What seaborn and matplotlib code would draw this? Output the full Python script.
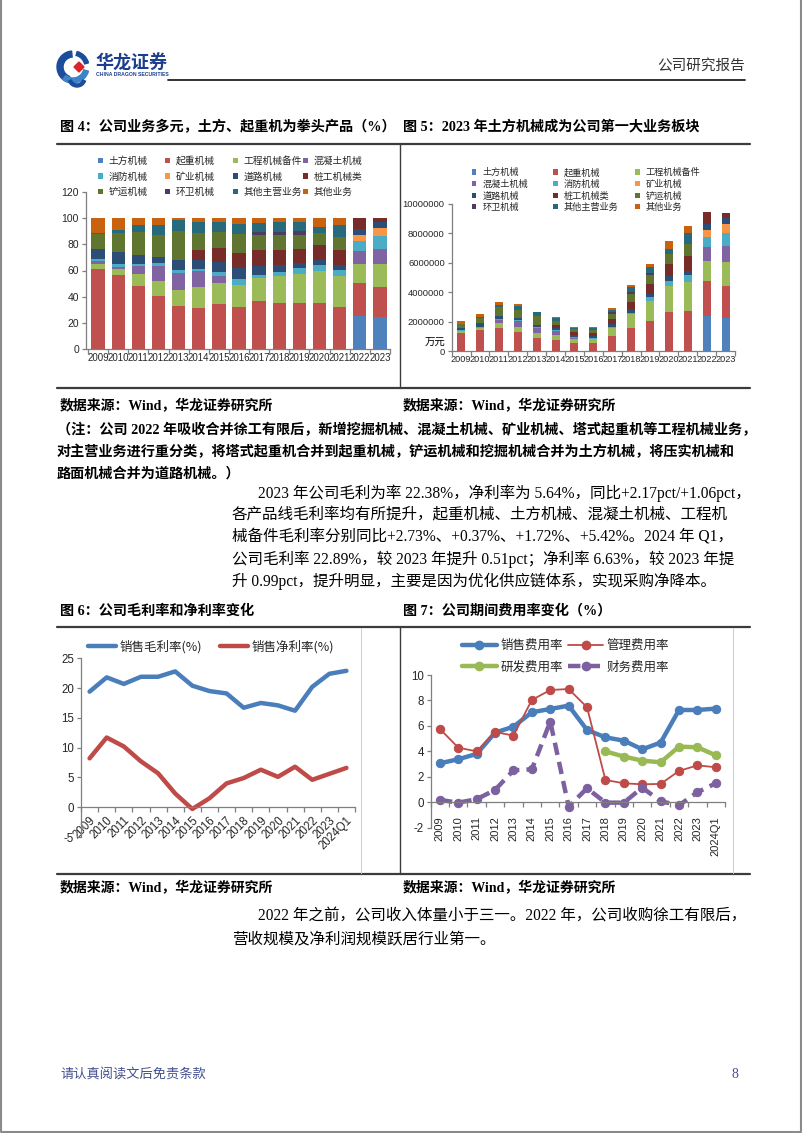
import numpy as np
import matplotlib
matplotlib.use("Agg")
import matplotlib.pyplot as plt
import seaborn as sns
from matplotlib.lines import Line2D
from matplotlib.patches import Patch, Wedge, Polygon
from matplotlib.legend import Legend
from matplotlib.ticker import FuncFormatter

# ------------------------------------------------------------------ data
years = ["2009", "2010", "2011", "2012", "2013", "2014", "2015", "2016",
         "2017", "2018", "2019", "2020", "2021", "2022", "2023"]
segments = ["土方机械", "起重机械", "工程机械备件", "混凝土机械", "消防机械", "矿业机械",
            "道路机械", "桩工机械类", "铲运机械", "环卫机械", "其他主营业务", "其他业务"]
seg_colors = ["#4F81BD", "#C0504D", "#9BBB59", "#8064A2", "#4BACC6", "#F79646",
              "#2C4D75", "#772C2A", "#5F7530", "#4D3B62", "#276A7C", "#C8620F"]

# Fig 4: revenue share by segment (%)
share_tufang = [0, 0, 0, 0, 0, 0, 0, 0, 0, 0, 0, 0, 0, 25.4, 24.2]
share_qizhong = [61.0, 56.2, 47.8, 40.7, 32.8, 31.3, 34.6, 32.1, 36.4, 35.1, 34.8, 35.5, 32.1, 25.0, 22.9]
share_beijian = [4.1, 4.8, 9.5, 11.0, 12.5, 16.0, 15.8, 17.0, 17.8, 20.9, 22.5, 24.3, 23.4, 14.7, 18.0]
share_hunningtu = [1.9, 2.0, 6.3, 11.9, 12.7, 12.0, 5.1, 0, 0, 0, 0, 0, 0, 10.0, 11.2]
share_xiaofang = [1.7, 1.9, 1.5, 2.0, 2.5, 1.7, 3.0, 4.3, 2.5, 2.5, 4.3, 4.5, 5.1, 7.1, 9.7]
share_kuangye = [0, 0, 0, 0, 0, 0, 0, 0, 0, 0, 0, 0, 0, 5.1, 6.4]
share_daolu = [7.6, 9.6, 6.9, 4.4, 7.2, 7.2, 7.7, 8.4, 6.9, 5.9, 4.0, 4.0, 3.8, 4.3, 4.3]
share_zhuanggong = [0, 0, 0, 0, 0, 7.1, 10.9, 11.5, 11.7, 10.9, 11.0, 11.0, 11.4, 8.4, 3.3]
share_chanyun = [11.7, 14.5, 17.8, 17.3, 22.6, 13.7, 12.7, 14.5, 12.0, 12.0, 10.8, 9.0, 9.7, 0, 0]
share_huanwei = [0, 0, 0, 0, 0, 0, 0, 0, 2.5, 2.5, 2.5, 0, 0, 0, 0]
share_qitazhuying = [1.0, 2.0, 5.1, 7.7, 8.2, 7.7, 6.9, 7.6, 6.4, 6.9, 7.0, 5.0, 9.4, 0, 0]
share_qita = [11.0, 9.0, 5.1, 5.0, 1.5, 3.3, 3.3, 4.6, 3.8, 3.3, 3.1, 6.7, 5.1, 0, 0]

# Fig 5: revenue by segment (万元)
rev_tufang = [0, 0, 0, 0, 0, 0, 0, 0, 0, 0, 0, 0, 0, 2395000, 2260000]
rev_qizhong = [1263000, 1433000, 1587000, 1315000, 879000, 732000, 574000, 539000,
               1067000, 1572000, 2064000, 2645000, 2722000, 2358000, 2139000]
rev_beijian = [85000, 122000, 315000, 355000, 335000, 374000, 262000, 286000,
               522000, 936000, 1334000, 1810000, 1984000, 1386000, 1681000]
rev_hunningtu = [39000, 51000, 209000, 384000, 340000, 281000, 85000, 0,
                 0, 0, 0, 0, 0, 943000, 1046000]
rev_xiaofang = [35000, 48000, 50000, 65000, 67000, 40000, 50000, 72000,
                73000, 112000, 255000, 335000, 432000, 670000, 906000]
rev_kuangye = [0, 0, 0, 0, 0, 0, 0, 0, 0, 0, 0, 0, 0, 481000, 598000]
rev_daolu = [157000, 245000, 229000, 142000, 193000, 168000, 128000, 141000,
             202000, 264000, 237000, 298000, 322000, 405000, 402000]
rev_zhuanggong = [0, 0, 0, 0, 0, 166000, 181000, 193000,
                  343000, 488000, 652000, 820000, 967000, 792000, 308000]
rev_chanyun = [242000, 370000, 591000, 559000, 606000, 321000, 211000, 244000,
               352000, 538000, 640000, 671000, 823000, 0, 0]
rev_huanwei = [0, 0, 0, 0, 0, 0, 0, 0, 73000, 112000, 148000, 0, 0, 0, 0]
rev_qitazhuying = [21000, 51000, 169000, 249000, 220000, 180000, 115000, 128000,
                   188000, 309000, 415000, 373000, 797000, 0, 0]
rev_qita = [228000, 230000, 169000, 162000, 40000, 77000, 55000, 77000,
            111000, 148000, 184000, 499000, 432000, 0, 0]

# Fig 6 / Fig 7
periods = ["2009", "2010", "2011", "2012", "2013", "2014", "2015", "2016",
           "2017", "2018", "2019", "2020", "2021", "2022", "2023", "2024Q1"]
gross_margin = [19.4, 21.8, 20.7, 21.9, 21.9, 22.8, 20.4, 19.5, 19.1, 16.7, 17.5, 17.1, 16.2, 20.2, 22.4, 22.9]
net_margin = [8.2, 11.7, 10.2, 7.7, 5.7, 2.3, -0.3, 1.5, 4.0, 4.9, 6.3, 5.1, 6.8, 4.6, 5.6, 6.6]
sell_exp = [3.06, 3.38, 3.8, 5.47, 5.94, 7.07, 7.33, 7.59, 5.68, 5.1, 4.84, 4.16, 4.69, 7.25, 7.25, 7.36]
admin_exp = [5.76, 4.29, 4.0, 5.52, 5.24, 8.04, 8.82, 8.9, 7.46, 1.75, 1.49, 1.41, 1.44, 2.46, 2.9, 2.75]
rd_exp = [np.nan] * 9 + [4.0, 3.59, 3.27, 3.14, 4.37, 4.32, 3.69]
fin_exp = [0.18, -0.03, 0.24, 0.97, 2.51, 2.59, 6.34, -0.34, 1.1, -0.03, -0.03, 1.15, 0.08, -0.24, 0.79, 1.49]

share_series = [share_tufang, share_qizhong, share_beijian, share_hunningtu, share_xiaofang,
                share_kuangye, share_daolu, share_zhuanggong, share_chanyun, share_huanwei,
                share_qitazhuying, share_qita]
rev_series = [rev_tufang, rev_qizhong, rev_beijian, rev_hunningtu, rev_xiaofang,
              rev_kuangye, rev_daolu, rev_zhuanggong, rev_chanyun, rev_huanwei,
              rev_qitazhuying, rev_qita]

# ------------------------------------------------------------------ setup
sns.set_theme(style="white")
plt.rcParams["font.family"] = ["Liberation Sans", "Noto Sans CJK SC", "DejaVu Sans"]
plt.rcParams["axes.unicode_minus"] = False

W, H = 802, 1133
fig = plt.figure(figsize=(W / 100, H / 100), dpi=100)
fig.patch.set_facecolor("white")

CJK = ["Noto Sans CJK SC", "DejaVu Sans"]
SERIF = ["Liberation Serif", "Noto Sans CJK SC"]
SANS = ["Liberation Sans", "DejaVu Sans"]
AXC = "#7F7F7F"


def fx(x):
    return x / W


def fy(y):
    return 1 - y / H


def add_ax(l, t, r, b):
    return fig.add_axes([fx(l), fy(b), (r - l) / W, (b - t) / H])


def txt(x, y, s, size, bold=False, color="black", ha="left", family=SERIF):
    fig.text(fx(x), fy(y), s, fontsize=size, fontweight="bold" if bold else "normal",
             color=color, ha=ha, va="center", family=family)


def hline(x0, x1, y, lw=1.4, color="#3c3c3c"):
    fig.add_artist(Line2D([fx(x0), fx(x1)], [fy(y), fy(y)], transform=fig.transFigure,
                          color=color, lw=lw))


def vline(x, y0, y1, lw=1.0, color="#3c3c3c"):
    fig.add_artist(Line2D([fx(x), fx(x)], [fy(y0), fy(y1)], transform=fig.transFigure,
                          color=color, lw=lw))


def legend_item(ax, handle, label, x, y, size, hl, hh, pad):
    leg = Legend(ax, [handle], [label], loc="center left",
                 bbox_to_anchor=(fx(x), fy(y)), bbox_transform=fig.transFigure,
                 frameon=False, prop={"family": CJK, "size": size},
                 handlelength=hl, handleheight=hh, handletextpad=pad,
                 borderpad=0, borderaxespad=0)
    ax.add_artist(leg)


def style_axis(ax, n, fs):
    for s in ["top", "right"]:
        ax.spines[s].set_visible(False)
    for s in ["left", "bottom"]:
        ax.spines[s].set_visible(True)
        ax.spines[s].set_color(AXC)
        ax.spines[s].set_linewidth(0.9)
    ax.set_facecolor("none")
    ax.grid(False)
    ax.set_xlabel("")
    ax.set_ylabel("")
    ax.set_xticks(np.arange(-0.5, n + 0.5, 1.0), minor=True)
    ax.tick_params(axis="y", which="major", left=True, direction="out", length=3,
                   width=0.9, color=AXC, labelsize=fs, pad=2)
    ax.tick_params(axis="x", which="major", bottom=True, length=0)
    ax.tick_params(axis="x", which="minor", bottom=True, direction="out", length=3.5,
                   width=0.9, color=AXC)
    for lab in ax.get_yticklabels():
        lab.set_family(SANS)


# ------------------------------------------------------------------ page frame & header
fig.add_artist(Line2D([fx(1), fx(1)], [fy(0), fy(1131)], transform=fig.transFigure, color="#8a8a8a", lw=1.5))
fig.add_artist(Line2D([fx(800.5), fx(800.5)], [fy(0), fy(1131)], transform=fig.transFigure, color="#8a8a8a", lw=1.5))
fig.add_artist(Line2D([fx(1), fx(800.5)], [fy(1131.5), fy(1131.5)], transform=fig.transFigure, color="#8a8a8a", lw=1.5))

axl = add_ax(55, 46, 93, 88)
axl.set_xlim(0, 38)
axl.set_ylim(0, 42)
axl.set_aspect("equal")
axl.axis("off")
axl.add_patch(Wedge((18, 21), 16, 95, 250, width=6, color="#1C4C9C"))
axl.add_patch(Wedge((18, 21), 16, 15, 75, width=4, color="#1C4C9C"))
axl.add_patch(Wedge((18, 21), 16, 230, 345, width=5, color="#3E82C8"))
axl.add_patch(Wedge((22, 10), 9, 200, 340, width=3, color="#1C4C9C"))
axl.add_patch(Polygon([(19, 21), (24, 26), (29, 21), (24, 16)], closed=True, color="#D8262C"))

txt(96, 63, "华龙证券", 13, bold=True, color="#1B3E8E", family=CJK)
txt(96, 74, "CHINA DRAGON SECURITIES", 3.7, bold=True, color="#1B3E8E", family=SANS)
hline(168, 745, 79.5, lw=1.3, color="#222222")
txt(745, 67, "公司研究报告", 10.5, color="#333333", ha="right", family=CJK)

# ------------------------------------------------------------------ titles and rules
txt(60, 127, "图 4：公司业务多元，土方、起重机为拳头产品（%）", 10.2, bold=True)
txt(403, 127, "图 5：2023 年土方机械成为公司第一大业务板块", 10.2, bold=True)
hline(57, 750, 143.5, lw=1.6)
vline(400, 143.5, 388)
hline(57, 750, 388, lw=1.6)

txt(60, 406, "数据来源：Wind，华龙证券研究所", 10, bold=True)
txt(403, 406, "数据来源：Wind，华龙证券研究所", 10, bold=True)

note_lines = ["（注：公司 2022 年吸收合并徐工有限后，新增挖掘机械、混凝土机械、矿业机械、塔式起重机等工程机械业务，",
              "对主营业务进行重分类，将塔式起重机合并到起重机械，铲运机械和挖掘机械合并为土方机械，将压实机械和",
              "路面机械合并为道路机械。）"]
for i, s in enumerate(note_lines):
    txt(57, 430 + 22 * i, s, 10.2, bold=True)

para_lines = ["2023 年公司毛利为率 22.38%，净利率为 5.64%，同比+2.17pct/+1.06pct，",
              "各产品线毛利率均有所提升，起重机械、土方机械、混凝土机械、工程机",
              "械备件毛利率分别同比+2.73%、+0.37%、+1.72%、+5.42%。2024 年 Q1，",
              "公司毛利率 22.89%，较 2023 年提升 0.51pct；净利率 6.63%，较 2023 年提",
              "升 0.99pct，提升明显，主要是因为优化供应链体系，实现采购净降本。"]
for i, s in enumerate(para_lines):
    txt(258 if i == 0 else 232, 493 + 22 * i, s, 11.2)

txt(60, 611, "图 6：公司毛利率和净利率变化", 10.2, bold=True)
txt(403, 611, "图 7：公司期间费用率变化（%）", 10.2, bold=True)
hline(57, 750, 627, lw=1.6)
vline(400, 627, 874)
hline(57, 750, 874, lw=1.6)
vline(361, 628, 873, lw=0.8, color="#d0d0d0")
vline(733, 628, 873, lw=0.8, color="#d0d0d0")

txt(60, 888, "数据来源：Wind，华龙证券研究所", 10, bold=True)
txt(403, 888, "数据来源：Wind，华龙证券研究所", 10, bold=True)
txt(258, 917, "2022 年之前，公司收入体量小于三一。2022 年，公司收购徐工有限后，", 11.2)
txt(232, 940, "营收规模及净利润规模跃居行业第一。", 11.2)

txt(60, 1075, "请认真阅读文后免责条款", 9.5, color="#44508F", family=CJK)
txt(738, 1075, "8", 10, color="#44508F", ha="right", family=SERIF)

# ------------------------------------------------------------------ Fig 4 (stacked %)
ax4 = add_ax(86, 192, 390, 349)
bottom = np.zeros(len(years))
for vals, col in zip(share_series, seg_colors):
    v = np.asarray(vals, float)
    sns.barplot(x=years, y=v, bottom=bottom.copy(), color=col, saturation=1,
                width=0.66, linewidth=0, errorbar=None, ax=ax4)
    bottom += v
ax4.set_ylim(0, 120)
ax4.set_yticks(np.arange(0, 121, 20))
ax4.set_xticks(np.arange(len(years)))
ax4.set_xticklabels(years, fontsize=7, family=SANS)
ax4.set_xlim(-0.6, 14.45)
style_axis(ax4, len(years), 7.5)
ax4.tick_params(axis="x", which="major", pad=3)

cols4 = [98, 165, 233, 303]
rows4 = [161, 176.5, 192]
for i, (name, col) in enumerate(zip(segments, seg_colors)):
    legend_item(ax4, Patch(facecolor=col, edgecolor="none"), name,
                cols4[i % 4], rows4[i // 4], 7, 0.5, 0.5, 0.6)

# ------------------------------------------------------------------ Fig 5 (stacked absolute)
ax5 = add_ax(451.7, 203.7, 735, 351.3)
bottom = np.zeros(len(years))
for vals, col in zip(rev_series, seg_colors):
    v = np.asarray(vals, float)
    sns.barplot(x=years, y=v, bottom=bottom.copy(), color=col, saturation=1,
                width=0.42, linewidth=0, errorbar=None, ax=ax5)
    bottom += v
ax5.set_ylim(0, 10000000)
ax5.set_yticks(np.arange(0, 10000001, 2000000))
ax5.yaxis.set_major_formatter(FuncFormatter(lambda v, p: "%d" % v))
ax5.set_xticks(np.arange(len(years)))
ax5.set_xticklabels(years, fontsize=6.6, family=SANS)
ax5.set_xlim(-0.5, 14.4)
style_axis(ax5, len(years), 6.8)
ax5.tick_params(axis="x", which="major", pad=3)
txt(425, 343, "万元", 7.5, family=CJK)

cols5 = [471.7, 553, 635]
rows5 = [172.7, 184.3, 195.9, 207.5]
for i, (name, col) in enumerate(zip(segments, seg_colors)):
    legend_item(ax5, Patch(facecolor=col, edgecolor="none"), name,
                cols5[i % 3], rows5[i // 3], 6.6, 0.5, 0.5, 0.7)

# ------------------------------------------------------------------ Fig 6 (margins)
BLUE, RED, GREEN, PURPLE = "#4A7EBB", "#BE4B48", "#98B954", "#7D60A0"
ax6 = add_ax(81, 658.3, 355, 837)
xp = np.arange(len(periods))
sns.lineplot(x=xp, y=gross_margin, color=BLUE, linewidth=3.2, ax=ax6,
             solid_joinstyle="round", solid_capstyle="round")
sns.lineplot(x=xp, y=net_margin, color=RED, linewidth=3.2, ax=ax6,
             solid_joinstyle="round", solid_capstyle="round")
ax6.set_ylim(-5, 25)
ax6.set_yticks(np.arange(-5, 26, 5))
ax6.set_xlim(-0.5, len(periods) - 0.5)
ax6.spines["bottom"].set_position(("data", 0))
ax6.set_xticks(xp)
ax6.set_xticklabels(periods, rotation=45, ha="right", va="top",
                    rotation_mode="anchor", fontsize=8.3, family=SANS)
style_axis(ax6, len(periods), 8.3)
ax6.tick_params(axis="x", which="major", pad=5)
legend_item(ax6, Line2D([], [], color=BLUE, lw=3.2), "销售毛利率(%)", 88, 646.7, 9, 2.2, 0.7, 0.3)
legend_item(ax6, Line2D([], [], color=RED, lw=3.2), "销售净利率(%)", 220, 646.7, 9, 2.2, 0.7, 0.3)

# ------------------------------------------------------------------ Fig 7 (expense ratios)
ax7 = add_ax(430.7, 675, 725, 827.7)
sns.lineplot(x=xp, y=sell_exp, color=BLUE, linewidth=3.2, marker="o", markersize=6,
             markeredgecolor=BLUE, ax=ax7)
sns.lineplot(x=xp, y=admin_exp, color=RED, linewidth=1.3, marker="o", markersize=6,
             markeredgecolor=RED, ax=ax7)
sns.lineplot(x=xp, y=rd_exp, color=GREEN, linewidth=3.2, marker="o", markersize=6,
             markeredgecolor=GREEN, ax=ax7)
sns.lineplot(x=xp, y=fin_exp, color=PURPLE, linewidth=3.2, marker="o", markersize=6,
             markeredgecolor=PURPLE, linestyle="--", ax=ax7)
ax7.lines[-1].set_dashes((2.8, 1.6))
ax7.set_ylim(-2, 10)
ax7.set_yticks(np.arange(-2, 11, 2))
ax7.set_xlim(-0.5, len(periods) - 0.5)
ax7.spines["bottom"].set_position(("data", 0))
ax7.set_xticks(xp)
ax7.set_xticklabels(periods, rotation=90, ha="center", va="top", fontsize=8, family=SANS)
style_axis(ax7, len(periods), 8.3)
ax7.tick_params(axis="x", which="major", pad=10)

legend_item(ax7, Line2D([], [], color=BLUE, lw=3.2, marker="o", ms=6), "销售费用率", 461.7, 645.7, 9, 2.8, 0.7, 0.3)
legend_item(ax7, Line2D([], [], color=RED, lw=1.3, marker="o", ms=6), "管理费用率", 568, 645.7, 9, 2.8, 0.7, 0.3)
legend_item(ax7, Line2D([], [], color=GREEN, lw=3.2, marker="o", ms=6), "研发费用率", 461.7, 667.3, 9, 2.8, 0.7, 0.3)
legend_item(ax7, Line2D([], [], color=PURPLE, lw=3.2, marker="o", ms=6, ls=(0, (2.8, 1.6))),
            "财务费用率", 568, 667.3, 9, 2.8, 0.7, 0.3)

fig.savefig("out.png", dpi=100, facecolor="white")
